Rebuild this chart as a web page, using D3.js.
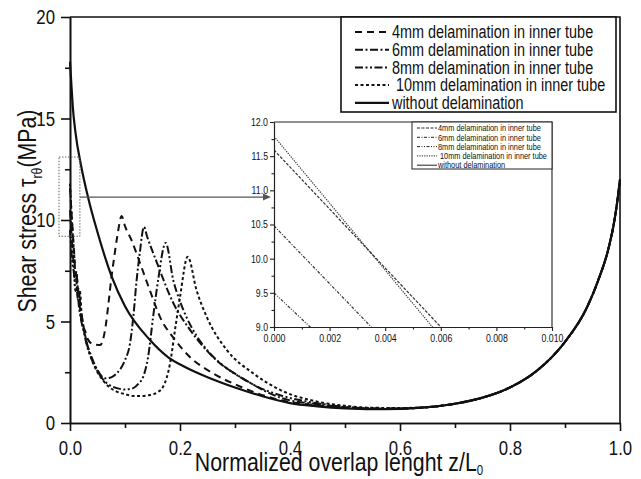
<!DOCTYPE html>
<html>
<head>
<meta charset="utf-8">
<script src="https://cdn.jsdelivr.net/npm/d3@7"></script>
<style>
  body { margin: 0; background: #fff; }
  svg text { font-family: "Liberation Sans", Arial, sans-serif; fill: #111; }
</style>
</head>
<body>
<div id="wrapper"></div>
<script>

// 1. Data

// shared right-hand part, where every curve lies on top of the others
const zTail = [0.65, 0.7, 0.75, 0.8, 0.85, 0.9, 0.94, 0.96, 0.98, 0.99, 0.995, 1.0]
const tauTail = [0.78, 0.95, 1.25, 1.75, 2.6, 4.0, 5.7, 7.0, 8.7, 10.0, 10.9, 12.0]

const zSolid = [0, 0.002, 0.005, 0.01, 0.02, 0.033, 0.05, 0.076, 0.1, 0.145, 0.178, 0.21, 0.249, 0.3, 0.35, 0.4, 0.45, 0.5, 0.55, 0.6]
const tauSolid = [17.8, 16.9, 15.6, 14.3, 12.7, 11.1, 9.4, 7.2, 5.75, 4.1, 3.25, 2.75, 2.27, 1.75, 1.32, 0.98, 0.82, 0.72, 0.68, 0.7]

const z4mm = [0, 0.006, 0.008, 0.01, 0.012, 0.014, 0.016, 0.018, 0.021, 0.024, 0.028, 0.033, 0.04, 0.048, 0.055, 0.06, 0.065, 0.07, 0.075, 0.08, 0.086, 0.094, 0.1, 0.112, 0.127, 0.145, 0.164, 0.188, 0.218, 0.26, 0.309, 0.382, 0.45, 0.5, 0.55, 0.6]
const tau4mm = [11.59, 9.0, 8.2, 7.3, 7.5, 6.5, 6.7, 5.7, 5.4, 4.8, 4.5, 4.1, 3.9, 3.85, 3.84, 4.1, 4.8, 5.9, 7.1, 8.1, 9.2, 10.2, 9.7, 9.0, 7.9, 6.55, 5.2, 4.2, 3.25, 2.45, 1.8, 1.13, 0.87, 0.76, 0.7, 0.7]

const z6mm = [0, 0.0035, 0.006, 0.009, 0.011, 0.014, 0.017, 0.02, 0.025, 0.03, 0.04, 0.05, 0.064, 0.075, 0.085, 0.1, 0.109, 0.115, 0.121, 0.127, 0.1345, 0.14, 0.158, 0.188, 0.218, 0.26, 0.32, 0.382, 0.45, 0.5, 0.55, 0.6]
const tau6mm = [10.48, 9.0, 8.0, 7.0, 7.2, 6.1, 6.3, 5.2, 4.6, 4.0, 3.2, 2.6, 2.2, 2.25, 2.45, 3.1, 3.9, 5.2, 7.0, 8.4, 9.66, 9.2, 7.9, 5.9, 4.6, 3.25, 2.1, 1.25, 0.92, 0.78, 0.71, 0.71]

const z8mm = [0, 0.0013, 0.004, 0.007, 0.01, 0.013, 0.016, 0.02, 0.025, 0.03, 0.04, 0.05, 0.06, 0.07, 0.085, 0.1, 0.115, 0.125, 0.133, 0.142, 0.151, 0.16, 0.174, 0.188, 0.2, 0.212, 0.23, 0.249, 0.28, 0.309, 0.34, 0.382, 0.45, 0.5, 0.55, 0.6]
const tau8mm = [9.5, 9.0, 8.0, 7.4, 6.5, 6.7, 5.8, 5.1, 4.5, 3.9, 3.1, 2.55, 2.15, 1.9, 1.72, 1.65, 1.72, 1.95, 2.27, 3.25, 5.2, 7.0, 8.87, 7.0, 6.0, 5.2, 4.3, 3.6, 2.8, 2.27, 1.8, 1.37, 0.97, 0.8, 0.72, 0.72]

const z10mm = [0, 0.0057, 0.008, 0.01, 0.012, 0.015, 0.018, 0.021, 0.025, 0.03, 0.04, 0.05, 0.06, 0.07, 0.085, 0.1, 0.115, 0.13, 0.145, 0.158, 0.169, 0.182, 0.191, 0.2, 0.214, 0.23, 0.249, 0.285, 0.333, 0.382, 0.45, 0.5, 0.55, 0.6]
const tau10mm = [11.79, 9.0, 8.1, 7.2, 7.4, 6.4, 6.5, 5.4, 4.7, 4.0, 3.1, 2.5, 2.1, 1.8, 1.55, 1.42, 1.33, 1.33, 1.38, 1.5, 1.77, 2.95, 4.6, 6.2, 8.19, 6.55, 5.2, 3.6, 2.45, 1.63, 1.05, 0.85, 0.75, 0.74]

const seriesNames = [
  "4mm delamination in inner tube",
  "6mm delamination in inner tube",
  "8mm delamination in inner tube",
  "10mm delamination in inner tube",
  "without delamination",
]

const xTicks = [0, 0.2, 0.4, 0.6, 0.8, 1.0]
const yTicks = [0, 5, 10, 15, 20]
const insetXTicks = [0, 0.002, 0.004, 0.006, 0.008, 0.010]
const insetYTicks = [9.0, 9.5, 10.0, 10.5, 11.0, 11.5, 12.0]

function drawChart() {

  const toPoints = (zs, taus) => zs.map((z, i) => ({z, tau: taus[i]}))
  const series = [
    toPoints(z4mm.concat(zTail), tau4mm.concat(tauTail)),
    toPoints(z6mm.concat(zTail), tau6mm.concat(tauTail)),
    toPoints(z8mm.concat(zTail), tau8mm.concat(tauTail)),
    toPoints(z10mm.concat(zTail), tau10mm.concat(tauTail)),
    toPoints(zSolid.concat(zTail), tauSolid.concat(tauTail)),
  ]
  // line styles per series: main plot / inset / legend sample
  const dashes = ["7,5", "8,2.5,2,2.5", "8,2.5,2,2.5,2,2.5", "3,2.5", null]
  const insetDashes = ["3,1.5", "3,1.5,1,1.5", "3,1.5,1,1.5,1,1.5", "1.2,1.2", null]
  const widths = [2, 2, 2, 2, 2.2]

  // the reference lettering is a narrow sans, no narrow face here so squeeze it
  const squeeze = 0.82

  // 2. Dimensions
  let dimensions = {
    width: 641,
    height: 479,
    margin: {top: 17, right: 21, bottom: 56, left: 70},
  }
  dimensions.boundedWidth = dimensions.width - dimensions.margin.left - dimensions.margin.right
  dimensions.boundedHeight = dimensions.height - dimensions.margin.top - dimensions.margin.bottom

  const inset = {left: 274, top: 122, width: 278, height: 205}

  // 3. Canvas
  const wrapper = d3.select("#wrapper")
    .append("svg")
      .attr("width", dimensions.width)
      .attr("height", dimensions.height)
      .style("display", "block")

  const bounds = wrapper.append("g")
      .attr("transform", `translate(${dimensions.margin.left},${dimensions.margin.top})`)

  // 4. Scales
  const xScale = d3.scaleLinear()
    .domain([0, 1])
    .range([0, dimensions.boundedWidth])
  const yScale = d3.scaleLinear()
    .domain([0, 20])
    .range([dimensions.boundedHeight, 0])

  // 5. Curves
  const lineGenerator = d3.line()
    .x(d => xScale(d.z))
    .y(d => yScale(d.tau))
    .curve(d3.curveMonotoneX)

  bounds.append("g").selectAll("path")
    .data(series)
    .enter().append("path")
      .attr("d", lineGenerator)
      .attr("fill", "none")
      .attr("stroke", "#111")
      .attr("stroke-width", (d, i) => widths[i])
      .attr("stroke-dasharray", (d, i) => dashes[i])

  // 6. Axes
  const xAxis = bounds.append("g")
    .attr("transform", `translate(0,${dimensions.boundedHeight})`)
    .call(d3.axisBottom(xScale).tickValues(xTicks).tickFormat(d3.format(".1f")).tickSize(8).tickSizeOuter(0).tickPadding(9))
  bounds.append("g")
    .attr("transform", `translate(0,${dimensions.boundedHeight})`)
    .call(d3.axisBottom(xScale).tickValues(d3.range(0.1, 1, 0.2)).tickFormat("").tickSize(5).tickSizeOuter(0))
  const yAxis = bounds.append("g")
    .call(d3.axisLeft(yScale).tickValues(yTicks).tickSize(9).tickSizeOuter(0))
  bounds.append("g")
    .call(d3.axisLeft(yScale).tickValues([2.5, 7.5, 12.5, 17.5]).tickFormat("").tickSize(5).tickSizeOuter(0))

  bounds.selectAll(".domain, .tick line")
    .attr("stroke", "#111")
    .attr("stroke-width", 1.6)
  xAxis.selectAll("text")
    .style("font-size", "20.5px")
    .attr("fill", "#111")
    .attr("transform", `scale(${squeeze},1)`)
  yAxis.selectAll("text")
    .style("font-size", "20.5px")
    .attr("fill", "#111")
    .attr("x", -15 / squeeze)
    .attr("transform", `scale(${squeeze},1)`)

  // box on top and right
  bounds.append("path")
    .attr("d", `M0,0H${dimensions.boundedWidth}V${dimensions.boundedHeight}`)
    .attr("fill", "none")
    .attr("stroke", "#111")
    .attr("stroke-width", 1.6)

  // axis titles
  wrapper.append("text")
    .attr("transform", `translate(${dimensions.margin.left + dimensions.boundedWidth / 2 - 6}, 471) scale(${squeeze},1)`)
    .attr("text-anchor", "middle")
    .style("font-size", "26px")
    .text("Normalized overlap lenght z/L")
    .append("tspan")
      .attr("dy", 4)
      .style("font-size", "14px")
      .text("0")

  const yTitle = wrapper.append("text")
    .attr("transform", `translate(36, 211) rotate(-90) scale(${squeeze},1)`)
    .attr("text-anchor", "middle")
    .style("font-size", "26px")
  yTitle.append("tspan").text("Shear stress τ")
  yTitle.append("tspan").attr("dy", 6).style("font-size", "15px").text("rθ")
  yTitle.append("tspan").attr("dy", -6).text("(MPa)")

  // zoom marker rectangle and arrow
  const markerGroup = bounds.append("g")
  markerGroup.append("rect")
    .attr("x", xScale(-0.02))
    .attr("y", yScale(13.1))
    .attr("width", xScale(0.018) - xScale(-0.02))
    .attr("height", yScale(9.2) - yScale(13.1))
    .attr("fill", "none")
    .attr("stroke", "#666")
    .attr("stroke-width", 1)
    .attr("stroke-dasharray", "1.5,1.5")

  const arrowY = yScale(11.13)
  const arrowEnd = inset.left - dimensions.margin.left - 3
  markerGroup.append("line")
    .attr("x1", xScale(0.018))
    .attr("x2", arrowEnd - 6)
    .attr("y1", arrowY)
    .attr("y2", arrowY)
    .attr("stroke", "#555")
    .attr("stroke-width", 1.2)
  markerGroup.append("path")
    .attr("d", `M${arrowEnd},${arrowY}l-8,-3.5v7z`)
    .attr("fill", "#555")

  // main legend
  const legend = wrapper.append("g")
  legend.append("rect")
    .attr("x", 341).attr("y", 17)
    .attr("width", 275).attr("height", 95)
    .attr("fill", "#fff")
    .attr("stroke", "#111")
    .attr("stroke-width", 1.6)
  const legendRows = legend.selectAll(".legend-row")
    .data(seriesNames)
    .enter().append("g")
      .attr("class", "legend-row")
      .attr("transform", (d, i) => `translate(0, ${32 + i * 17.7})`)
  legendRows.append("line")
    .attr("x1", 355).attr("x2", 389)
    .attr("stroke", "#111")
    .attr("stroke-width", (d, i) => widths[i])
    .attr("stroke-dasharray", (d, i) => dashes[i])
  legendRows.append("text")
    .attr("transform", (d, i) => `translate(${i == 3 ? 396 : 392}, 0) scale(${squeeze},1)`)
    .attr("dy", "0.36em")
    .style("font-size", "17.6px")
    .text(d => d)

  // 7. Inset
  const insetX = d3.scaleLinear()
    .domain([0, 0.010])
    .range([0, inset.width])
  const insetY = d3.scaleLinear()
    .domain([9, 12])
    .range([inset.height, 0])

  const insetGroup = wrapper.append("g")
    .attr("transform", `translate(${inset.left},${inset.top})`)
  insetGroup.append("rect")
    .attr("width", inset.width)
    .attr("height", inset.height)
    .attr("fill", "#fff")

  insetGroup.append("clipPath")
    .attr("id", "inset-clip")
    .append("rect")
      .attr("width", inset.width)
      .attr("height", inset.height)

  const insetLine = d3.line()
    .x(d => insetX(d.z))
    .y(d => insetY(d.tau))

  insetGroup.append("g")
    .attr("clip-path", "url(#inset-clip)")
    .selectAll("path")
    .data(series)
    .enter().append("path")
      .attr("d", insetLine)
      .attr("fill", "none")
      .attr("stroke", "#333")
      .attr("stroke-width", 1.2)
      .attr("stroke-dasharray", (d, i) => insetDashes[i])

  const insetXAxis = insetGroup.append("g")
    .attr("transform", `translate(0,${inset.height})`)
    .call(d3.axisBottom(insetX).tickValues(insetXTicks).tickFormat(d3.format(".3f")).tickSize(4).tickSizeOuter(0).tickPadding(3))
  insetGroup.append("g")
    .attr("transform", `translate(0,${inset.height})`)
    .call(d3.axisBottom(insetX).tickValues([0.001, 0.003, 0.005, 0.007, 0.009]).tickFormat("").tickSize(2.5).tickSizeOuter(0))
  const insetYAxis = insetGroup.append("g")
    .call(d3.axisLeft(insetY).tickValues(insetYTicks).tickFormat(d3.format(".1f")).tickSize(4).tickSizeOuter(0))
  insetGroup.append("g")
    .call(d3.axisLeft(insetY).tickValues([9.25, 9.75, 10.25, 10.75, 11.25, 11.75]).tickFormat("").tickSize(2.5).tickSizeOuter(0))
  insetGroup.selectAll(".domain, .tick line")
    .attr("stroke", "#222")
    .attr("stroke-width", 1.1)
  insetXAxis.selectAll("text")
    .style("font-size", "10.7px")
    .attr("fill", "#111")
    .attr("transform", `scale(${squeeze},1)`)
  insetYAxis.selectAll("text")
    .style("font-size", "10.7px")
    .attr("fill", "#111")
    .attr("x", -6 / squeeze)
    .attr("transform", `scale(${squeeze},1)`)

  insetGroup.append("path")
    .attr("d", `M0,0H${inset.width}V${inset.height}`)
    .attr("fill", "none")
    .attr("stroke", "#222")
    .attr("stroke-width", 1.1)

  // inset legend
  const insetLegend = wrapper.append("g")
  insetLegend.append("rect")
    .attr("x", 412).attr("y", 122)
    .attr("width", 140).attr("height", 47)
    .attr("fill", "#fff")
    .attr("stroke", "#222")
    .attr("stroke-width", 1)
  const insetRows = insetLegend.selectAll(".inset-row")
    .data(seriesNames)
    .enter().append("g")
      .attr("class", "inset-row")
      .attr("transform", (d, i) => `translate(0, ${128 + i * 9.3})`)
  insetRows.append("line")
    .attr("x1", 417).attr("x2", 437)
    .attr("stroke", "#222")
    .attr("stroke-width", 1)
    .attr("stroke-dasharray", (d, i) => insetDashes[i])
  insetRows.append("text")
    .attr("transform", (d, i) => `translate(${i == 3 ? 440 : 438}, 0) scale(${squeeze},1)`)
    .attr("dy", "0.36em")
    .style("font-size", "9px")
    .text(d => d)
}
drawChart()
</script>
</body>
</html>
